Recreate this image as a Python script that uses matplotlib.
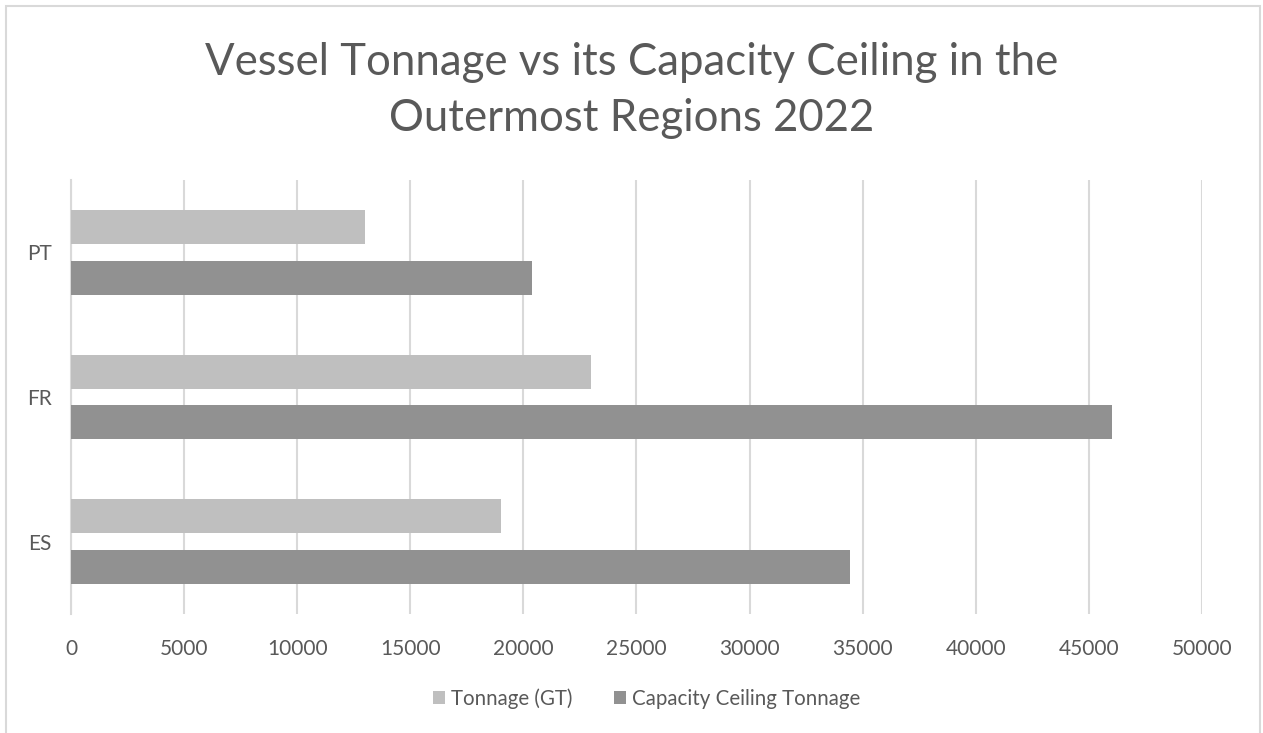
import matplotlib
matplotlib.use("Agg")
import matplotlib.pyplot as plt
import numpy as np
from matplotlib.patches import Rectangle

# data
regions = ["ES", "FR", "PT"]
tonnage_gt = [19000, 23000, 13000]
capacity_ceiling = [34450, 46000, 20400]
x_ticks = [0, 5000, 10000, 15000, 20000, 25000, 30000, 35000, 40000, 45000, 50000]

plt.rcParams['font.family'] = ['Lato', 'DejaVu Sans']
txt = '#595959'

fig = plt.figure(figsize=(12.63, 7.33), dpi=100)
ax = fig.add_axes([0.0562, 0.1623, 0.8955, 0.5921])

y = np.arange(len(regions))
h = 0.235
ax.barh(y + 0.175, tonnage_gt, height=h, color='#BFBFBF', label='Tonnage (GT)', zorder=3)
ax.barh(y - 0.175, capacity_ceiling, height=h, color='#919191', label='Capacity Ceiling Tonnage', zorder=3)

ax.set_xlim(0, 50000)
ax.set_ylim(-0.5, 2.5)
ax.set_xticks(x_ticks)
ax.set_xticklabels([str(v) for v in x_ticks])
ax.set_yticks(y)
ax.set_yticklabels(regions)
ax.tick_params(axis='both', length=0, labelsize=15, colors=txt)
ax.tick_params(axis='x', pad=18)
ax.tick_params(axis='y', pad=14)
ax.grid(axis='x', color='#D9D9D9', linewidth=1.5, zorder=0)
for s in ['top', 'right', 'bottom']:
    ax.spines[s].set_visible(False)
ax.spines['left'].set_color('#D9D9D9')
ax.spines['left'].set_linewidth(1.5)

fig.suptitle("Vessel Tonnage vs its Capacity Ceiling in the\nOutermost Regions 2022",
             x=0.5, y=0.943, fontsize=31.5, color=txt, linespacing=1.45)

fig.legend(loc='center', bbox_to_anchor=(0.512, 0.047), ncol=2, frameon=False,
           fontsize=14.8, labelcolor=txt, handlelength=0.6, handleheight=0.6,
           handletextpad=0.3, columnspacing=2.0)

fig.patches.append(Rectangle((6 / 1263, -0.01), 1254 / 1263, 1 - 6 / 733 + 0.01,
                             transform=fig.transFigure, fill=False,
                             edgecolor='#D9D9D9', linewidth=1.5))

fig.savefig("out.png", dpi=100)
